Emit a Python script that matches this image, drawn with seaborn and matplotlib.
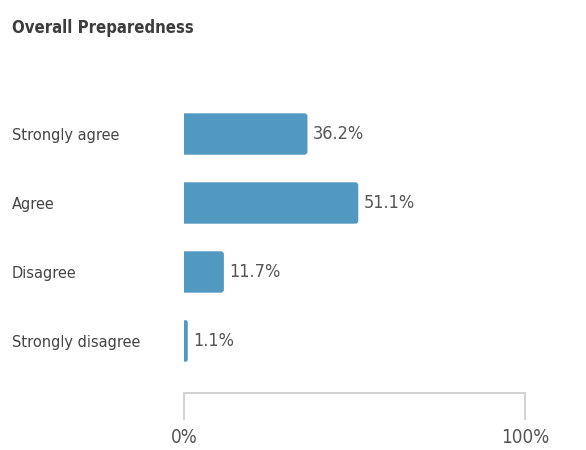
import matplotlib
matplotlib.use("Agg")
import matplotlib.pyplot as plt
import seaborn as sns
import pandas as pd
from matplotlib.patches import FancyBboxPatch

categories = ["Strongly agree", "Agree", "Disagree", "Strongly disagree"]
values = [36.2, 51.1, 11.7, 1.1]
x_ticks = [0, 100]
x_tick_labels = ["0%", "100%"]
title = "Overall Preparedness"

df = pd.DataFrame({"category": categories, "value": values})

sns.set_theme(style="white")
plt.rcParams["font.family"] = ["DejaVu Sans"]
plt.rcParams["font.stretch"] = "condensed"

W, H = 586, 450
fig = plt.figure(figsize=(W / 100, H / 100), dpi=100)
ax = fig.add_axes([184 / W, 57 / H, 341 / W, 293 / H])

sns.barplot(data=df, x="value", y="category", orient="h", color="#5299c2",
            saturation=1, width=0.6, ax=ax)

ax.set_xlim(0, 100)
ax.set_ylim(3.754, -0.493)
ax.set_xlabel("")
ax.set_ylabel("")

# round the right corners slightly (left side is clipped at the axis)
px_x = 100 / 341.0
px_y = (3.754 + 0.493) / 293.0
for p in list(ax.patches):
    x0, y0 = p.get_x(), p.get_y()
    w, h = p.get_width(), p.get_height()
    r = min(3 * px_x, w / 2)
    fb = FancyBboxPatch((x0 - r, y0), w + r, h,
                        boxstyle=f"round,pad=0,rounding_size={r}",
                        mutation_aspect=px_y / px_x,
                        facecolor=p.get_facecolor(), edgecolor="none")
    p.remove()
    ax.add_patch(fb)

for s in ["top", "right", "left"]:
    ax.spines[s].set_visible(False)
ax.spines["bottom"].set_color("#d3d3d3")
ax.spines["bottom"].set_linewidth(1.5)

ax.set_xticks(x_ticks)
ax.set_xticklabels(x_tick_labels, fontsize=13.5, color="#555555")
ax.tick_params(axis="x", direction="out", length=19.5, width=1.5,
               color="#d3d3d3", pad=6, bottom=True)

ax.set_yticks(range(len(categories)))
ax.set_yticklabels(categories, fontsize=11.7, color="#444444", ha="left")
ax.tick_params(axis="y", length=0, pad=172 * 0.72)
for t in ax.get_yticklabels():
    t.set_y(t.get_position()[1])

for i, v in enumerate(values):
    ax.annotate(f"{v}%", xy=(v, i), xytext=(4, 0), textcoords="offset points",
                va="center", ha="left", fontsize=13, color="#555555")

fig.text(12 / W, 1 - 28 / H, title, fontsize=12, fontweight="bold",
         color="#3d3d3d", va="center", ha="left")

fig.savefig("out.png", dpi=100)
